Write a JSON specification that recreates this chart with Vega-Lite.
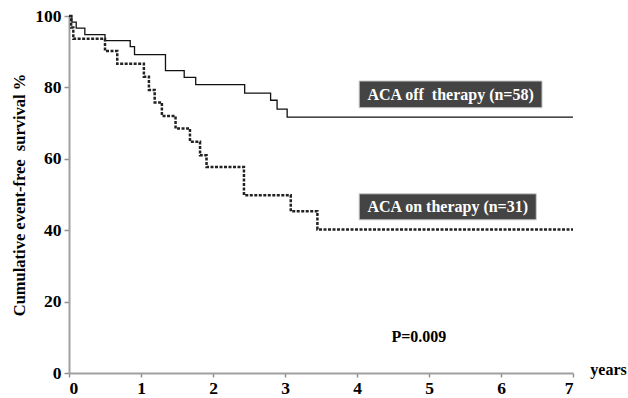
{
  "$schema": "https://vega.github.io/schema/vega-lite/v6.json",
  "width": 504,
  "height": 357,
  "autosize": "none",
  "padding": {"left": 69, "top": 16, "right": 55, "bottom": 25},
  "config": {
    "view": {"stroke": null},
    "font": "Liberation Serif",
    "axis": {"grid": false, "domainColor": "#a0a0a0", "domainWidth": 2, "tickColor": "#909090", "tickWidth": 1.5, "labelFont": "Liberation Serif", "labelFontWeight": "bold", "labelFontSize": 17.5, "labelColor": "#000", "titleFont": "Liberation Serif", "titleFontWeight": "bold", "titleFontSize": 16.5, "titleColor": "#000"}
  },
  "datasets": {
    "curves": [
      {"t": 0, "v": 100, "g": "off"},
      {"t": 0.04, "v": 98.3, "g": "off"},
      {"t": 0.1, "v": 96.6, "g": "off"},
      {"t": 0.22, "v": 94.8, "g": "off"},
      {"t": 0.5, "v": 93.1, "g": "off"},
      {"t": 0.85, "v": 91.4, "g": "off"},
      {"t": 0.91, "v": 89.2, "g": "off"},
      {"t": 1.34, "v": 84.7, "g": "off"},
      {"t": 1.6, "v": 82.8, "g": "off"},
      {"t": 1.76, "v": 80.8, "g": "off"},
      {"t": 2.44, "v": 78.4, "g": "off"},
      {"t": 2.8, "v": 76.4, "g": "off"},
      {"t": 2.89, "v": 73.9, "g": "off"},
      {"t": 3.03, "v": 71.7, "g": "off"},
      {"t": 7, "v": 71.7, "g": "off"},
      {"t": 0, "v": 100, "g": "on"},
      {"t": 0.03, "v": 96.8, "g": "on"},
      {"t": 0.06, "v": 93.6, "g": "on"},
      {"t": 0.5, "v": 90.2, "g": "on"},
      {"t": 0.67, "v": 86.6, "g": "on"},
      {"t": 1.04, "v": 83.0, "g": "on"},
      {"t": 1.11, "v": 79.3, "g": "on"},
      {"t": 1.19, "v": 75.8, "g": "on"},
      {"t": 1.29, "v": 72.0, "g": "on"},
      {"t": 1.48, "v": 68.5, "g": "on"},
      {"t": 1.68, "v": 64.8, "g": "on"},
      {"t": 1.82, "v": 61.0, "g": "on"},
      {"t": 1.91, "v": 57.7, "g": "on"},
      {"t": 2.43, "v": 49.8, "g": "on"},
      {"t": 3.08, "v": 45.3, "g": "on"},
      {"t": 3.45, "v": 40.2, "g": "on"},
      {"t": 7, "v": 40.2, "g": "on"}
    ],
    "boxes": [
      {"x1": 4.03, "x2": 6.57, "y1": 74.3, "y2": 81.8, "tx": 5.3, "ty": 78.0, "label": "ACA off\u00a0 therapy (n=58)"},
      {"x1": 4.03, "x2": 6.49, "y1": 42.9, "y2": 50.2, "tx": 5.26, "ty": 46.5, "label": "ACA on therapy (n=31)"}
    ],
    "pnote": [{"x": 4.86, "y": 10, "label": "P=0.009"}],
    "ynote": [{"x": 7.24, "y": 0.8, "label": "years"}]
  },
  "layer": [
    {
      "data": {"name": "curves"},
      "transform": [{"filter": "datum.g === 'off'"}],
      "mark": {"type": "line", "interpolate": "step-after", "color": "#111", "strokeWidth": 1.3},
      "encoding": {
        "x": {"field": "t", "type": "quantitative", "scale": {"domain": [0, 7], "nice": false}, "axis": {"values": [0,1,2,3,4,5,6,7], "format": "d", "title": null, "tickSize": 4, "labelPadding": 2}},
        "y": {"field": "v", "type": "quantitative", "scale": {"domain": [0, 100], "nice": false}, "axis": {"values": [0,20,40,60,80,100], "format": "d", "title": "Cumulative event-free\u00a0 survival %", "tickSize": 5, "labelPadding": 3, "titlePadding": 7}}
      }
    },
    {
      "data": {"name": "curves"},
      "transform": [{"filter": "datum.g === 'on'"}],
      "mark": {"type": "line", "interpolate": "step-after", "color": "#222", "strokeWidth": 2.5, "strokeDash": [3, 1.5]},
      "encoding": {
        "x": {"field": "t", "type": "quantitative"},
        "y": {"field": "v", "type": "quantitative"}
      }
    },
    {
      "data": {"name": "boxes"},
      "mark": {"type": "rect", "fill": "#444444", "stroke": "#cccccc", "strokeWidth": 1},
      "encoding": {
        "x": {"field": "x1", "type": "quantitative"},
        "x2": {"field": "x2"},
        "y": {"field": "y1", "type": "quantitative"},
        "y2": {"field": "y2"}
      }
    },
    {
      "data": {"name": "boxes"},
      "mark": {"type": "text", "color": "#ffffff", "font": "Liberation Serif", "fontWeight": "bold", "fontSize": 16, "align": "center", "baseline": "middle"},
      "encoding": {
        "x": {"field": "tx", "type": "quantitative"},
        "y": {"field": "ty", "type": "quantitative"},
        "text": {"field": "label"}
      }
    },
    {
      "data": {"name": "pnote"},
      "mark": {"type": "text", "color": "#000", "font": "Liberation Serif", "fontWeight": "bold", "fontSize": 16, "align": "center", "baseline": "middle"},
      "encoding": {
        "x": {"field": "x", "type": "quantitative"},
        "y": {"field": "y", "type": "quantitative"},
        "text": {"field": "label"}
      }
    },
    {
      "data": {"name": "ynote"},
      "mark": {"type": "text", "color": "#000", "font": "Liberation Serif", "fontWeight": "bold", "fontSize": 16, "align": "left", "baseline": "middle", "clip": false},
      "encoding": {
        "x": {"field": "x", "type": "quantitative"},
        "y": {"field": "y", "type": "quantitative"},
        "text": {"field": "label"}
      }
    }
  ]
}
